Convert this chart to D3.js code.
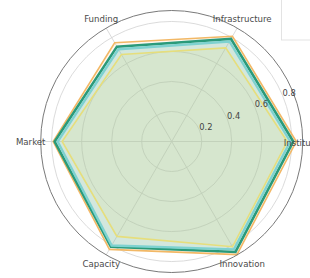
<!DOCTYPE html>
<html>
<head>
<meta charset="utf-8">
<script src="https://cdn.jsdelivr.net/npm/d3@7"></script>
<style>
html,body{margin:0;padding:0;background:#fff;}
svg{display:block;}
text{font-family:"DejaVu Sans",sans-serif;}
</style>
</head>
<body>
<svg id="chart" width="310" height="278"></svg>
<script>
// Categories in matplotlib order (counter-clockwise from east)
const categories = ["Institution", "Infrastructure", "Funding", "Market", "Capacity", "Innovation"];
const seriesNames = ["Series A", "Series B", "Series C", "Series D"];
const seriesOrange = [0.83, 0.81, 0.76, 0.79, 0.83, 0.87];
const seriesTeal   = [0.81, 0.79, 0.73, 0.78, 0.81, 0.85];
const seriesCyan   = [0.79, 0.77, 0.71, 0.76, 0.80, 0.83];
const seriesYellow = [0.77, 0.72, 0.67, 0.73, 0.73, 0.81];
const radialTicks = [0.2, 0.4, 0.6, 0.8];
const radialTickLabels = ["0.2", "0.4", "0.6", "0.8"];
const rMax = 0.873;

const series = [
  {name: seriesNames[0], values: seriesOrange, color: "#f2b866", fill: "#f4c070", width: 1.6, fillOpacity: 0.12},
  {name: seriesNames[1], values: seriesTeal,   color: "#2a9a7a", fill: "#3aa88a", width: 2.6, fillOpacity: 0.15},
  {name: seriesNames[2], values: seriesCyan,   color: "#7ed2d0", fill: "#8fd6d6", width: 2.4, fillOpacity: 0.16},
  {name: seriesNames[3], values: seriesYellow, color: "#e6de7c", fill: "#e4e080", width: 1.6, fillOpacity: 0.16}
];

const svg = d3.select("#chart");
const cx = 171.7, cy = 141.5, R = 131;
const r = d3.scaleLinear().domain([0, rMax]).range([0, R]);
const ang = d3.scaleLinear().domain([0, categories.length]).range([0, 2 * Math.PI]);
const px = (i, v) => cx + r(v) * Math.cos(ang(i));
const py = (i, v) => cy - r(v) * Math.sin(ang(i));

const g = svg.append("g");

// grid circles
g.selectAll("circle.grid").data(radialTicks).join("circle")
  .attr("cx", cx).attr("cy", cy).attr("r", d => r(d))
  .attr("fill", "none").attr("stroke", "#d2d2d2").attr("stroke-width", 0.8);

// spokes
g.selectAll("line.spoke").data(categories).join("line")
  .attr("x1", cx).attr("y1", cy)
  .attr("x2", (d, i) => px(i, rMax)).attr("y2", (d, i) => py(i, rMax))
  .attr("stroke", "#d2d2d2").attr("stroke-width", 0.8);

// polygons
const line = d3.line().x(d => d[0]).y(d => d[1]).curve(d3.curveLinearClosed);
series.forEach(s => {
  const pts = s.values.map((v, i) => [px(i, v), py(i, v)]);
  g.append("path").attr("d", line(pts))
    .attr("fill", s.fill).attr("fill-opacity", s.fillOpacity)
    .attr("stroke", "none");
});
series.forEach(s => {
  const pts = s.values.map((v, i) => [px(i, v), py(i, v)]);
  g.append("path").attr("d", line(pts))
    .attr("fill", "none").attr("stroke", s.color)
    .attr("stroke-width", s.width).attr("stroke-linejoin", "miter");
});

// outer circle
g.append("circle").attr("cx", cx).attr("cy", cy).attr("r", R)
  .attr("fill", "none").attr("stroke", "#7a7a7a").attr("stroke-width", 1);

// radial tick labels at 22.5 deg
const la = 22.5 * Math.PI / 180;
g.selectAll("text.rt").data(radialTicks).join("text")
  .attr("x", d => cx + (r(d) + 7) * Math.cos(la))
  .attr("y", d => cy - (r(d) + 7) * Math.sin(la))
  .attr("text-anchor", "middle").attr("dominant-baseline", "central")
  .attr("font-size", 8.3).attr("fill", "#444")
  .text((d, i) => radialTickLabels[i]);

// category labels
g.selectAll("text.cat").data(categories).join("text")
  .attr("x", (d, i) => i === 0 ? cx + R - 19 : cx + (R + 10) * Math.cos(ang(i)))
  .attr("y", (d, i) => cy - (R + 10) * Math.sin(ang(i)) + (i === 0 ? 1 : 0))
  .attr("text-anchor", (d, i) => i === 0 ? "start" : "middle")
  .attr("dominant-baseline", "central")
  .attr("font-size", 8.6).attr("fill", "#4a4a4a")
  .text(d => d);

// legend box (cropped at right edge)
svg.append("rect").attr("x", 281.5).attr("y", -2).attr("width", 40).attr("height", 42)
  .attr("fill", "#fff").attr("fill-opacity", 0.85).attr("stroke", "#ddd").attr("stroke-width", 0.8);
</script>
</body>
</html>
